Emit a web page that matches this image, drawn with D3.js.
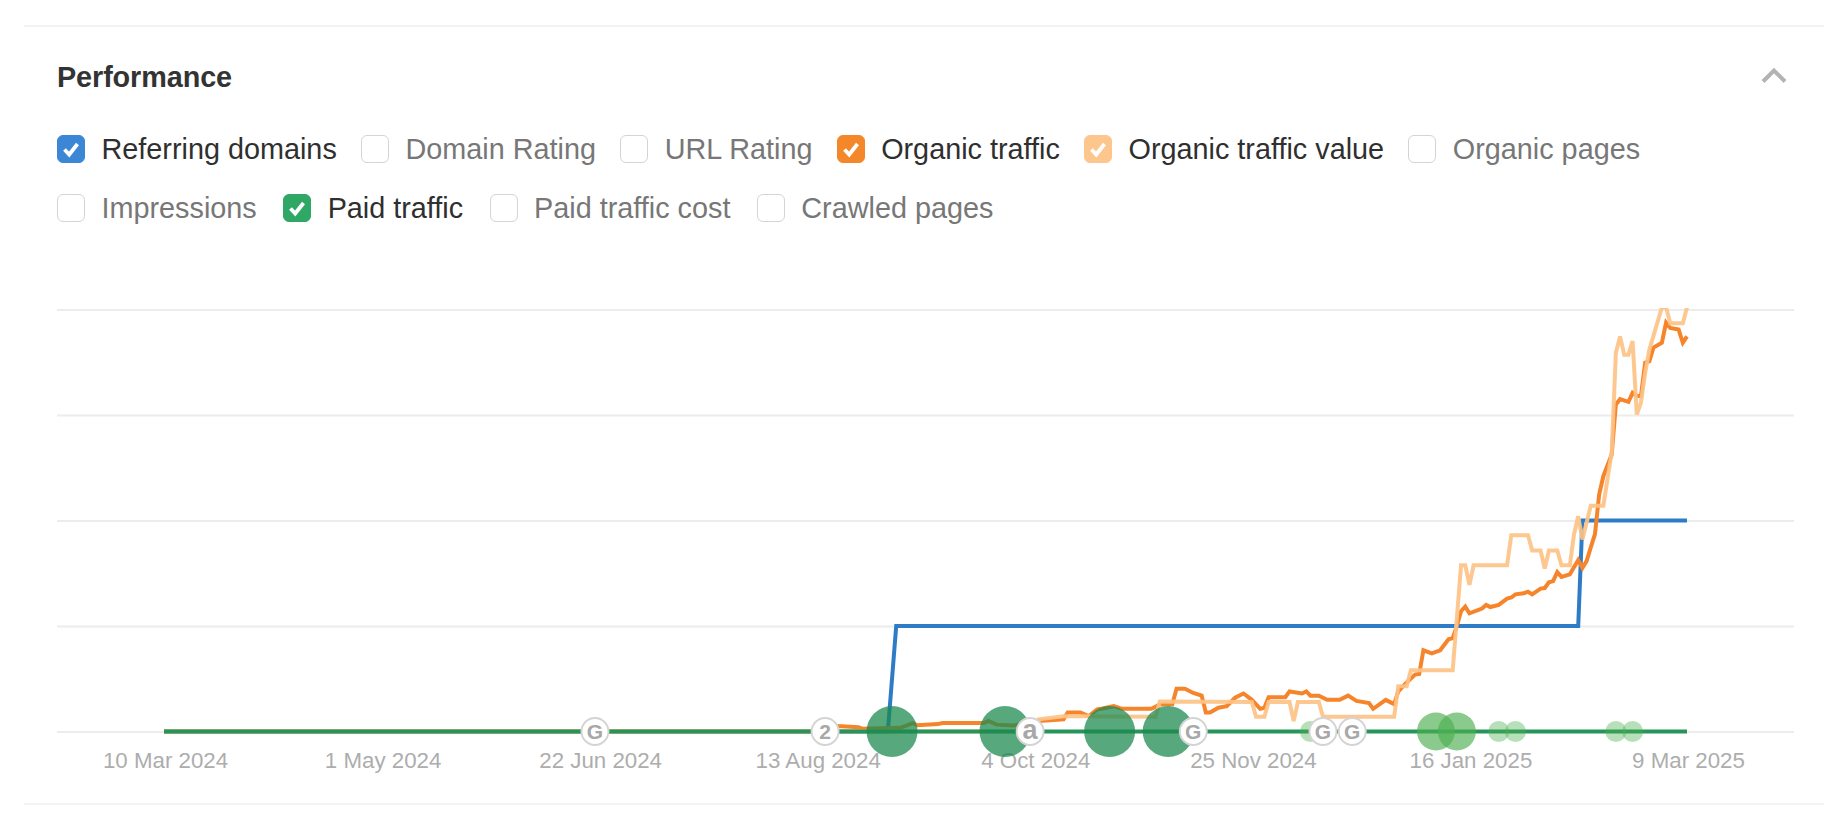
<!DOCTYPE html>
<html><head><meta charset="utf-8">
<script src="https://cdn.jsdelivr.net/npm/d3@7/dist/d3.min.js"></script>
<style>
html,body{margin:0;background:#fff;width:1848px;height:829px;overflow:hidden;font-family:"Liberation Sans",Arial,sans-serif}
svg{position:absolute;left:0;top:0}
.title{position:absolute;left:57px;top:61px;font-size:28.8px;font-weight:700;color:#333;line-height:32px;letter-spacing:-.1px}
.row{position:absolute;left:57px;display:flex;height:28px;align-items:center;white-space:nowrap}
.item{display:flex;align-items:center;gap:16.5px;font-size:28.8px;line-height:28px;color:#777}
.item.on{color:#2f2f2f}
.box{width:28px;height:28px;box-sizing:border-box;border-radius:6px;border:1.5px solid #d4d4d4;background:#fff;position:relative;flex:none}
.box svg{position:absolute;left:-1px;top:-1px}
</style></head><body>
<div class="title">Performance</div>
<div id="legend"></div>
<svg id="chart" width="1848" height="829"></svg>
<script>
const startDate = "2024-03-10";
const tickDates = ["2024-03-10","2024-05-01","2024-06-22","2024-08-13","2024-10-04","2024-11-25","2025-01-16","2025-03-09"];
const gridTicks = [0,1,2,3,4];

const legendRow1 = ["Referring domains","Domain Rating","URL Rating","Organic traffic","Organic traffic value","Organic pages"];
const legendRow2 = ["Impressions","Paid traffic","Paid traffic cost","Crawled pages"];
const legendOn = {"Referring domains":"#3b87d6","Organic traffic":"#f5872b","Organic traffic value":"#fdc68d","Paid traffic":"#2fa866"};

// days since startDate, and values in grid units
const referringDays = [0,173,175,338,339,364];
const referringValues = [0,0,1,1,2,2];

const paidDays = [0,364];
const paidValues = [0,0];

const organicDays = [0,140,155,158,162,166,167,176,179,180,185,186,196,197,199,203,209,215,216,219,221,223,224,227,229,236,238,241,242,244,246,248,249,250,252,254,256,258,260,262,263,264,268,269,272,273,274,276,278,281,283,285,288,289,292,294,295,297,299,300,301,303,305,307,308,309,310,311,312,315,316,317,319,321,322,323,325,326,327,329,330,331,332,333,334,336,338,339,340,341,342,343,344,346,347,348,350,351,352,353,354,355,356,358,359,360,362,363,364];
const organicValues = [0,0,0,0.05,0.05,0.04,0.025,0.035,0.08,0.06,0.07,0.08,0.08,0.10,0.065,0.057,0.10,0.115,0.18,0.18,0.145,0.21,0.215,0.24,0.215,0.215,0.255,0.26,0.405,0.405,0.365,0.34,0.18,0.18,0.225,0.24,0.32,0.36,0.30,0.215,0.225,0.325,0.325,0.38,0.36,0.38,0.34,0.34,0.30,0.30,0.34,0.29,0.27,0.215,0.30,0.26,0.38,0.465,0.54,0.545,0.77,0.74,0.77,0.875,0.885,1.0,1.14,1.185,1.12,1.165,1.20,1.18,1.20,1.26,1.27,1.30,1.31,1.325,1.30,1.355,1.36,1.415,1.425,1.51,1.465,1.49,1.625,1.55,1.615,1.745,1.87,2.245,2.42,2.625,3.10,3.15,3.125,3.21,3.18,3.18,3.495,3.51,3.64,3.685,3.875,3.825,3.81,3.685,3.745];

const valueDays = [0,203,207,209,215,220,237,238,260,261,263,264,269,270,271,276,277,294,295,297,298,308,310,311,312,313,321,322,326,327,329,330,331,333,334,336,337,338,339,341,344,346,347,348,349,350,351,352,353,354,355,358,359,360,363,364];
const valueValues = [0,0,0.02,0.115,0.145,0.145,0.14,0.285,0.28,0.14,0.14,0.28,0.28,0.10,0.28,0.28,0.14,0.14,0.43,0.43,0.58,0.58,1.575,1.575,1.39,1.575,1.575,1.86,1.86,1.715,1.715,1.545,1.715,1.715,1.575,1.575,1.87,2.04,1.82,2.14,2.14,2.645,3.59,3.745,3.57,3.57,3.70,3.005,3.12,3.40,3.62,4.02,4.02,3.87,3.87,4.02];

// paid-traffic change bubbles: day and size level
const bubbleDays = [174,201,226,240,274,304,309,319,323,347,351];
const bubbleLevels = [3,3,3,3,1,2,2,1,1,1,1];

// annotation pins
const pinDays = [103,158,207,246,277,284];
const pinLabels = ["G","2","a","G","G","G"];

const x = d3.scaleUtc().domain([new Date(startDate), new Date(tickDates[tickDates.length-1])]).range([164,1687]);
const y = d3.scaleLinear().domain([0,4]).range([731.5,309.5]);
const day = n => d3.utcDay.offset(new Date(startDate), n);
const fmt = d3.utcFormat("%-d %b %Y");

// legend
const check = "M7.5 14.5 L12.2 19.5 L20.5 9";
[[legendRow1,24.2], [legendRow2,26.4]].forEach(([row,gap],i)=>{
  const r = d3.select("#legend").append("div").attr("class","row").style("top",(135+i*59)+"px").style("gap",gap+"px");
  const it = r.selectAll(".item").data(row).join("div").attr("class",d=>"item"+(legendOn[d]?" on":""));
  const b = it.append("div").attr("class","box")
    .style("background",d=>legendOn[d]||"#fff").style("border-color",d=>legendOn[d]||"#d4d4d4");
  b.filter(d=>legendOn[d]).append("svg").attr("width",28).attr("height",28)
    .append("path").attr("d",check).attr("fill","none").attr("stroke","#fff").attr("stroke-width",3.8);
  it.append("span").text(d=>d);
});

const svg = d3.select("#chart");
// separators
svg.selectAll("line.sep").data([26,804]).join("line").attr("class","sep")
  .attr("x1",24).attr("x2",1824).attr("y1",d=>d).attr("y2",d=>d).attr("stroke","#efefef").attr("stroke-width",1.5);
// chevron
svg.append("path").attr("d",d3.line()([[1763,81.5],[1774,70.5],[1785,81.5]]))
  .attr("fill","none").attr("stroke","#b3b3b3").attr("stroke-width",4);

// gridlines
const gAxisY = svg.append("g").attr("transform","translate(57,0)")
  .call(d3.axisLeft(y).tickValues(gridTicks).tickSize(-1737).tickFormat(""));
gAxisY.select(".domain").remove();
gAxisY.selectAll("line").attr("stroke","#ececec").attr("stroke-width",1.8);

// x axis
const gAxisX = svg.append("g").attr("transform","translate(0,751)")
  .call(d3.axisBottom(x).tickValues(tickDates.map(d=>new Date(d))).tickSize(0).tickPadding(0).tickFormat(fmt));
gAxisX.select(".domain").remove();
gAxisX.selectAll("text").attr("fill","#adadad").attr("font-size",22.3).attr("dy","0.76em")
  .attr("dx",1).style("font-family",'"Liberation Sans",Arial,sans-serif');

// clip for lines
svg.append("clipPath").attr("id","plot").append("rect").attr("x",57).attr("y",308).attr("width",1737).attr("height",440);
const plot = svg.append("g").attr("clip-path","url(#plot)");
const line = d3.line().x(d=>x(day(d[0]))).y(d=>y(d[1]));
const series = [
 [referringDays,referringValues,"#2f7cc6",1],
 [organicDays,organicValues,"#f5842a",1],
 [valueDays,valueValues,"#fdc287",.92],
 [paidDays,paidValues,"#27955a",1]
];
series.forEach(s=>{
  plot.append("path").attr("d",line(d3.zip(s[0],s[1]))).attr("fill","none")
    .attr("stroke",s[2]).attr("stroke-width",4).attr("stroke-opacity",s[3]).attr("stroke-linejoin","miter");
});

// bubbles
const rScale = d3.scaleOrdinal().domain([1,2,3]).range([10.5,19,25.5]);
const cScale = d3.scaleOrdinal().domain([1,2,3]).range(["#4caf50","#4caf50","#1c8a50"]);
const oScale = d3.scaleOrdinal().domain([1,2,3]).range([.4,.65,.74]);
svg.append("g").selectAll("circle").data(d3.zip(bubbleDays,bubbleLevels)).join("circle")
  .attr("cx",d=>x(day(d[0]))).attr("cy",y(0)).attr("r",d=>rScale(d[1]))
  .attr("fill",d=>cScale(d[1])).attr("fill-opacity",d=>oScale(d[1]));

// pins
const pins = svg.append("g").selectAll("g").data(d3.zip(pinDays,pinLabels)).join("g")
  .attr("transform",d=>`translate(${x(day(d[0]))},${y(0)})`);
pins.append("circle").attr("r",13.5).attr("fill","#fff").attr("stroke","#d4d4d4").attr("stroke-width",1.9);
pins.append("text").text(d=>d[1]).attr("text-anchor","middle").attr("dy",d=>d[1]==="a"?"0.27em":"0.36em")
  .attr("font-size",d=>d[1]==="a"?27:21).attr("font-weight",700).attr("fill","#a8a8a8")
  .style("font-family",'"Liberation Sans",Arial,sans-serif');
</script>
</body></html>
